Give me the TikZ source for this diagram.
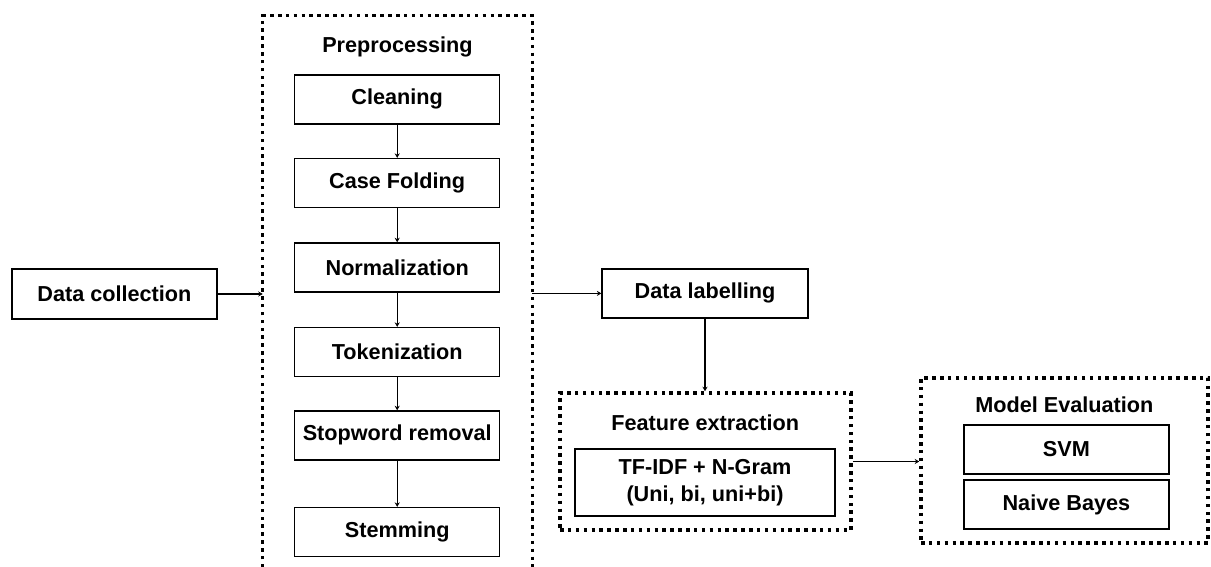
\documentclass[tikz,border=0pt]{standalone}
\usepackage{fontspec}
\setmainfont{Liberation Sans}
\usetikzlibrary{positioning, arrows.meta}

\begin{document}
\begin{tikzpicture}[
  font=\fontsize{15.4}{19.2}\selectfont\bfseries,
  stepbox/.style={draw, line width=0.9pt, minimum width=5.125cm, minimum height=1.225cm, inner sep=0pt},
  dotframe/.style={line width=2.5pt, dash pattern=on 2.5pt off 3.1pt},
  frame/.style={minimum width=#1, inner sep=0pt},
  link/.style={line width=0.9pt, -{Stealth[length=3.2pt, width=3.6pt]}}
]
\useasboundingbox (0, 0) rectangle (30.275, 14.175);

% collection and preprocessing column
\node [stepbox, minimum height=1.25cm] (coll) at (2.86, 6.825) {Data collection};
\node [frame=6.725cm, minimum height=13.775cm] (prep) at (9.9375, 6.8875) {};
\draw [dotframe] (prep.south west) |- (prep.north east) -- (prep.south east);
\node (preptitle) at (9.9375, 13.0) {Preprocessing};
\node [stepbox] (clean) at (9.93, 11.69) {Cleaning};
\node [stepbox] (fold) at (9.93, 9.6) {Case Folding};
\node [stepbox] (norm) at (9.93, 7.49) {Normalization};
\node [stepbox] (token) at (9.93, 5.375) {Tokenization};
\node [stepbox] (stop) at (9.93, 3.29) {Stopword removal};
\node [stepbox] (stem) at (9.93, 0.875) {Stemming};
\foreach \a/\b in {clean/fold, fold/norm, norm/token, token/stop, stop/stem}{\draw [link] (\a) -- (\b);}
\draw [link] (coll.east) -- (coll.east -| prep.west);

% labelling and features
\node [stepbox, minimum width=5.15cm] (lab) at (17.625, 6.84) {Data labelling};
\draw [link] (prep.east |- lab.west) -- (lab.west);
\node [frame=7.275cm, minimum height=3.425cm, dotframe, draw] (feat) at (17.64, 2.6375) {};
\node (feattitle) at (17.63, 3.6) {Feature extraction};
\node [stepbox, minimum width=6.5cm, minimum height=1.675cm, align=center] (tfidf) at (17.625, 2.1125) {TF-IDF + N-Gram\\(Uni, bi, uni+bi)};
\draw [link] (lab.south) -- (lab.south |- feat.north);

% classifiers
\node [frame=7.175cm, minimum height=4.125cm, dotframe, draw] (model) at (26.6125, 2.6625) {};
\node (modeltitle) at (26.61, 4.05) {Model Evaluation};
\node [stepbox] (svm) at (26.66, 2.9375) {SVM};
\node [stepbox] (bayes) at (26.66, 1.5625) {Naive Bayes};
\draw [link] (feat.east) -- (feat.east -| model.west);
\end{tikzpicture}
\end{document}
